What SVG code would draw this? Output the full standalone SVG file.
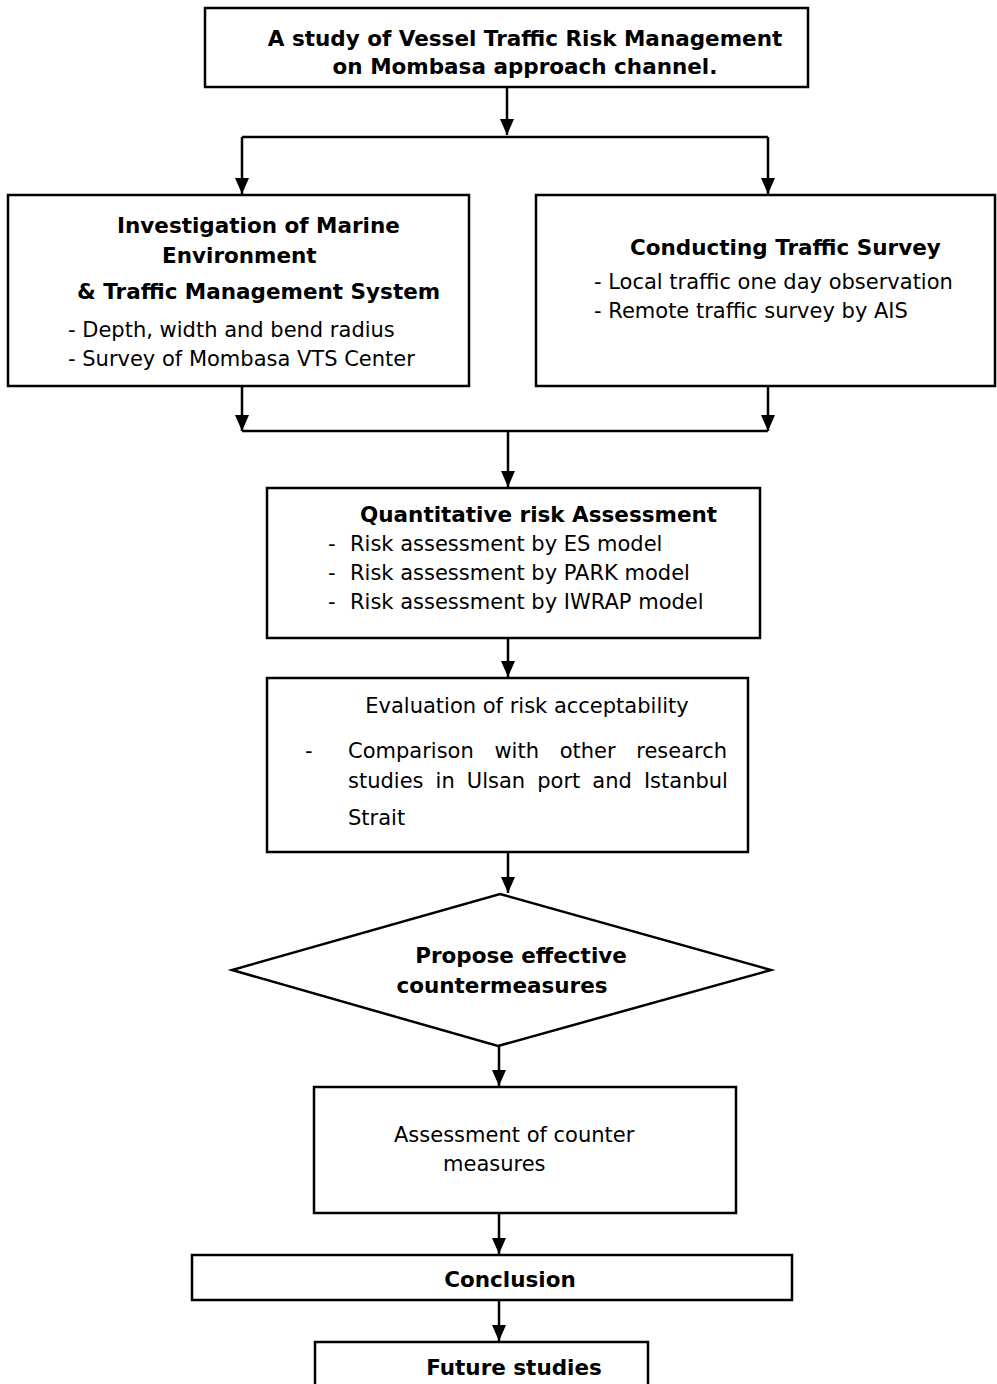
<svg xmlns="http://www.w3.org/2000/svg" width="997" height="1384" viewBox="0 0 997 1384">
<defs>
<marker id="ah" markerUnits="userSpaceOnUse" markerWidth="16" markerHeight="14" viewBox="0 0 16 14" refX="16" refY="7" orient="auto">
<path d="M0,0 L16,7 L0,14 Z" fill="#000"/>
</marker>
</defs>
<style>
.box{fill:#fff;stroke:#000;stroke-width:2.5}
.ln{fill:none;stroke:#000;stroke-width:2.5}
.arr{fill:none;stroke:#000;stroke-width:2.5;marker-end:url(#ah)}
text{font-family:"DejaVu Sans",sans-serif;font-size:21px;fill:#000}
.b{font-weight:bold;font-size:21.5px}
.c{text-anchor:middle}
.e{text-anchor:end}
</style>
<rect width="997" height="1384" fill="#fff"/>
<g id="connectors">
<line class="arr" x1="507" y1="87" x2="507" y2="135"/>
<line class="ln" x1="242" y1="137" x2="768" y2="137"/>
<line class="arr" x1="242" y1="137" x2="242" y2="194"/>
<line class="arr" x1="768" y1="137" x2="768" y2="194"/>
<line class="arr" x1="242" y1="386" x2="242" y2="431"/>
<line class="arr" x1="768" y1="386" x2="768" y2="431"/>
<line class="ln" x1="242" y1="431" x2="768" y2="431"/>
<line class="arr" x1="508" y1="431" x2="508" y2="487"/>
<line class="arr" x1="508" y1="638" x2="508" y2="677"/>
<line class="arr" x1="508" y1="852" x2="508" y2="893"/>
<line class="arr" x1="499" y1="1046" x2="499" y2="1086"/>
<line class="arr" x1="499" y1="1213" x2="499" y2="1254"/>
<line class="arr" x1="499" y1="1300" x2="499" y2="1341"/>
</g>
<g id="node-title">
<rect class="box" x="205" y="8" width="603" height="79"/>
<text class="b c" x="525" y="46">A study of Vessel Traffic Risk Management</text>
<text class="b c" x="525" y="74">on Mombasa approach channel.</text>
</g>
<g id="node-investigation">
<rect class="box" x="8" y="195" width="461" height="191"/>
<text class="b" x="117" y="233">Investigation of Marine</text>
<text class="b" x="162" y="263">Environment</text>
<text class="b" x="77" y="299">&amp; Traffic Management System</text>
<text x="68" y="337">- Depth, width and bend radius</text>
<text x="68" y="366">- Survey of Mombasa VTS Center</text>
</g>
<g id="node-survey">
<rect class="box" x="536" y="195" width="459" height="191"/>
<text class="b" x="630" y="255">Conducting Traffic Survey</text>
<text x="594" y="289">- Local traffic one day observation</text>
<text x="594" y="318">- Remote traffic survey by AIS</text>
</g>
<g id="node-qra">
<rect class="box" x="267" y="488" width="493" height="150"/>
<text class="b" x="360" y="522">Quantitative risk Assessment</text>
<text x="328" y="551">-</text><text x="350" y="551">Risk assessment by ES model</text>
<text x="328" y="580">-</text><text x="350" y="580">Risk assessment by PARK model</text>
<text x="328" y="609">-</text><text x="350" y="609">Risk assessment by IWRAP model</text>
</g>
<g id="node-evaluation">
<rect class="box" x="267" y="678" width="481" height="174"/>
<text class="c" x="527" y="713">Evaluation of risk acceptability</text>
<text x="305" y="758">-</text>
<text x="348" y="758" word-spacing="14">Comparison with other research</text>
<text x="348" y="788" word-spacing="5.4">studies in Ulsan port and Istanbul</text>
<text x="348" y="825">Strait</text>
</g>
<g id="node-propose">
<polygon class="box" points="500,894 771,970 498,1046 232,970"/>
<text class="b c" x="521" y="963">Propose effective</text>
<text class="b c" x="502" y="993">countermeasures</text>
</g>
<g id="node-assessment">
<rect class="box" x="314" y="1087" width="422" height="126"/>
<text x="394" y="1142">Assessment of counter</text>
<text x="443" y="1171">measures</text>
</g>
<g id="node-conclusion">
<rect class="box" x="192" y="1255" width="600" height="45"/>
<text class="b c" x="510" y="1287">Conclusion</text>
</g>
<g id="node-future">
<rect class="box" x="315" y="1342" width="333" height="60"/>
<text class="b c" x="514" y="1375">Future studies</text>
</g>
</svg>
